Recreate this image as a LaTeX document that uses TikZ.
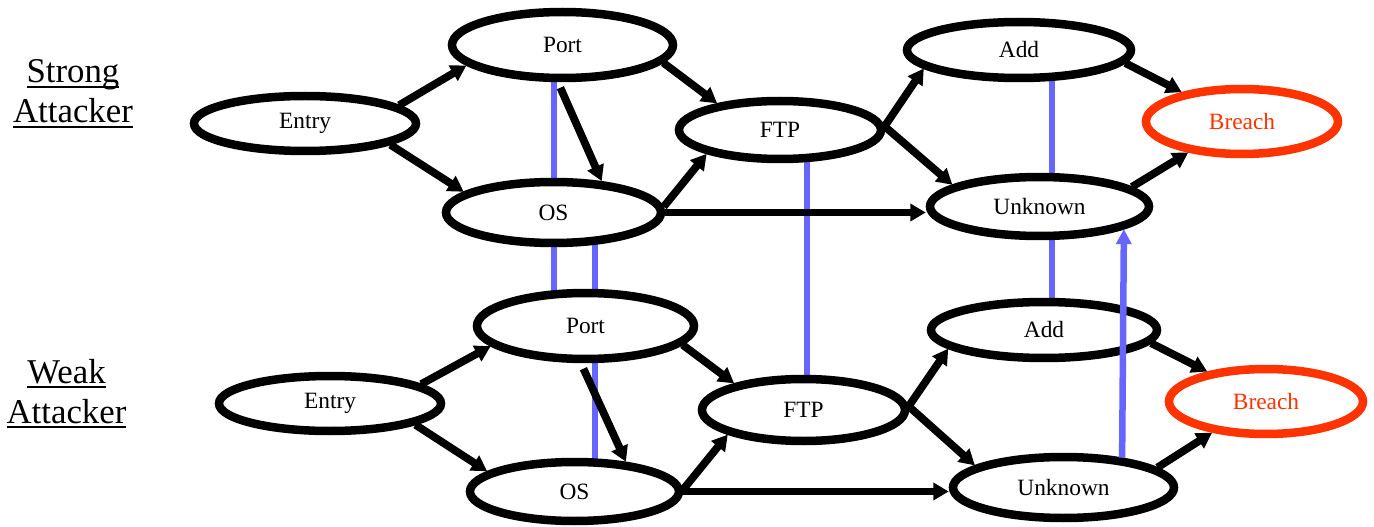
\documentclass[tikz,border=0pt]{standalone}
\usepackage{fontspec}
\setmainfont{Liberation Serif}
\usetikzlibrary{arrows.meta,shapes.geometric,backgrounds}
\definecolor{linkblue}{RGB}{102,102,255}
\definecolor{breachred}{RGB}{255,51,0}
% underlined caption word
\newcommand{\attul}[1]{\setbox0\hbox{#1}\rlap{\rule[-3pt]{\wd0}{1.1pt}}\box0}

\begin{document}
% one unit = 0.02cm
\begin{tikzpicture}[x=0.02cm, y=-0.02cm,
  state/.style={ellipse, draw=black, line width=0.17cm, fill=white, inner sep=0pt,
                font=\fontsize{13.3}{16}\selectfont},
  goal/.style={state, draw=breachred, text=breachred},
  dims/.style 2 args={minimum width=#1*0.02cm, minimum height=#2*0.02cm},
  arr/.style={line width=0.155cm, -{Triangle[length=0.31cm, width=0.34cm]}},
  link/.style={draw=linkblue, line width=0.13cm},
  linkarr/.style={link, -{Triangle[length=0.30cm, width=0.30cm]}},
  lab/.style={font=\fontsize{19.8}{22.7}\selectfont, inner sep=0pt, anchor=base}]

\useasboundingbox (0,0) rectangle (1374,527);

% captions
\node[lab] (s1) at (73,83)   {\attul{Strong}};
\node[lab] (s2) at (73,123)  {\attul{Attacker}};
\node[lab] (w1) at (66.5,383) {\attul{Weak}};
\node[lab] (w2) at (66.5,423) {\attul{Attacker}};

% strong attacker graph
\node[state, dims={222}{55}] (E1) at (305,123.5)  {Entry};
\node[state, dims={221}{66}] (P1) at (562.5,45)   {Port};
\node[state, dims={215}{61}] (O1) at (553.5,212.5){OS};
\node[state, dims={202}{58}] (F1) at (780,130)    {FTP};
\node[state, dims={224}{56}] (A1) at (1019,50)    {Add};
\node[state, dims={219}{59}] (U1) at (1039.5,206.5){Unknown};
\node[goal,  dims={192}{65}] (B1) at (1242,121.5) {Breach};

% weak attacker graph
\node[state, dims={222}{55}] (E2) at (330,403.5)  {Entry};
\node[state, dims={217}{66}] (P2) at (585.5,326)  {Port};
\node[state, dims={209}{59}] (O2) at (574.5,491.5){OS};
\node[state, dims={203}{62}] (F2) at (803.5,410)  {FTP};
\node[state, dims={226}{56}] (A2) at (1044,330)   {Add};
\node[state, dims={221}{61}] (U2) at (1063.5,487.5){Unknown};
\node[goal,  dims={194}{65}] (B2) at (1266,401.5) {Breach};

% correspondences between the two graphs, behind the nodes
\coordinate (lp) at ([xshift=-0.17cm]P1.center);
\coordinate (lo) at ([xshift=0.83cm]O1.center);
\coordinate (lf) at ([xshift=0.54cm]F1.center);
\coordinate (la) at ([xshift=0.66cm]A1.center);
\begin{pgfonlayer}{background}
  \draw[link] (lp) -- (lp |- P2.center);
  \draw[link] (lo) -- (lo |- O2.center);
  \draw[link] (lf) -- (lf |- F2.center);
  \draw[link] (la) -- (la |- A2.center);
\end{pgfonlayer}

% attack steps, strong
\draw[arr] (E1.11)  -- (P1.192);
\draw[arr] (E1.-14) -- (O1.167);
\draw[arr, shorten <=0.12cm] (P1.263) -- (O1.33);
\draw[arr] (P1.-10) -- (F1.157);
\draw[arr] (O1.3)   -- (F1.198);
\draw[arr] (O1.east) -- (O1.east -| U1.west);
\draw[arr] (F1.2)   -- (A1.191);
\draw[arr] (F1.2)   -- (U1.166);
\draw[arr] (A1.-7)  -- (B1.154);
\draw[arr] (U1.12)  -- (B1.210);

% attack steps, weak
\draw[arr] (E2.12)  -- (P2.192);
\draw[arr] (E2.-14) -- (O2.167);
\draw[arr, shorten <=0.12cm] (P2.263) -- (O2.30);
\draw[arr] (P2.-11) -- (F2.159);
\draw[arr] (O2.1)   -- (F2.198);
\draw[arr] (O2.east) -- (O2.east -| U2.west);
\draw[arr] (F2.2)   -- (A2.191);
\draw[arr] (F2.2)   -- (U2.166);
\draw[arr] (A2.-7)  -- (B2.153);
\draw[arr] (U2.12)  -- (B2.210);

% weak unknown implies strong unknown
\draw[linkarr] (U2.27) -- (U1.-15);
\end{tikzpicture}
\end{document}
